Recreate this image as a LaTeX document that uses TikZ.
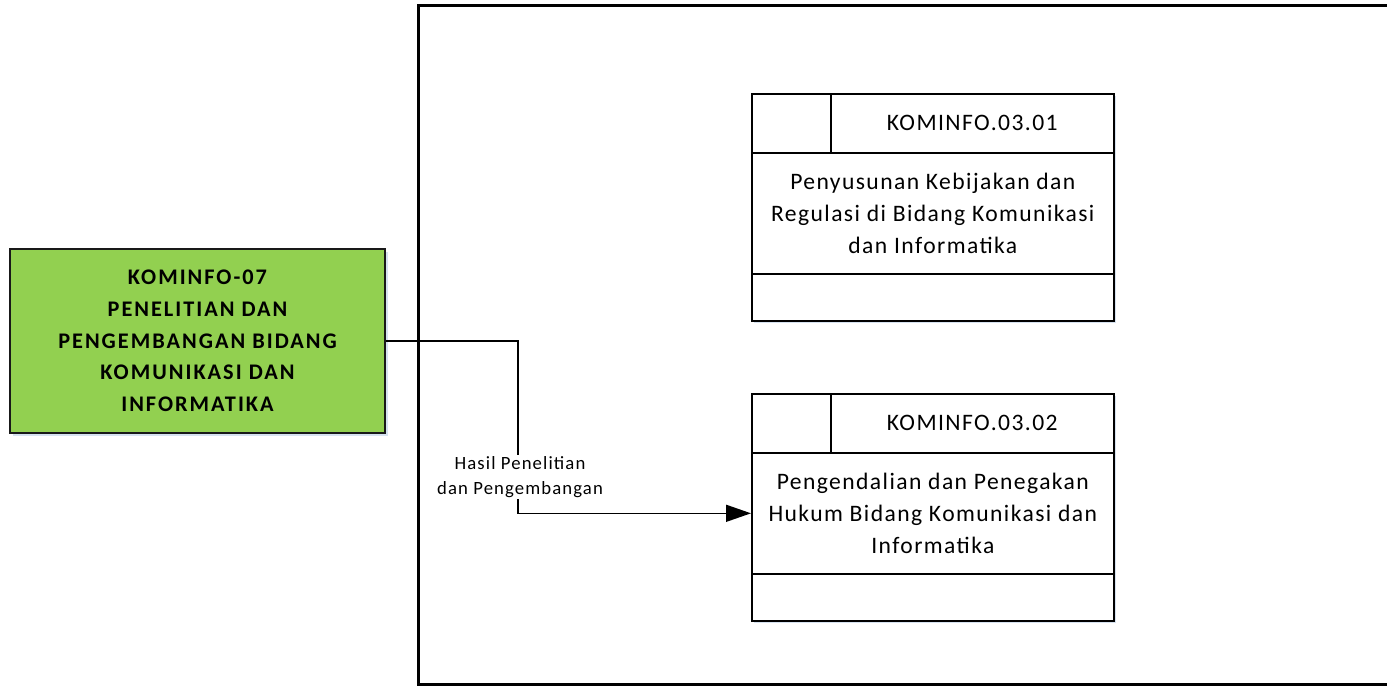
\documentclass[tikz,border=0pt]{standalone}
\usepackage{fontspec}
\setmainfont{Carlito}
\newfontfamily\boxfont[LetterSpace=6]{Carlito}
\newfontfamily\greenfont[LetterSpace=9]{Carlito}
\usetikzlibrary{arrows.meta}
\definecolor{kgreen}{RGB}{146,208,80}
\definecolor{shadowblue}{RGB}{214,226,240}
\begin{document}
\begin{tikzpicture}[x=1pt,y=-1pt,
  srcbox/.style={draw=black!90, line width=2.2pt, fill=kgreen, minimum width=375pt, minimum height=184pt, inner sep=0pt, align=center, font=\greenfont\bfseries\fontsize{22.3}{31.7}\selectfont},
  cell/.style={draw=black, fill=white, line width=1.6pt, inner sep=0pt, anchor=north west, align=center, font=\boxfont\fontsize{23.6}{32}\selectfont},
  conn/.style={draw=black, line width=1.5pt},
  lbl/.style={fill=white, inner sep=1.5pt, align=center, font=\boxfont\fontsize{18.7}{25}\selectfont},
  shadowbox/.style={fill=shadowblue}
]
\useasboundingbox (0,0) rectangle (1387,686);
% outer frame
\draw[line width=3.5pt] (1390,5.5) -- (418.5,5.5) -- (418.5,684.5) -- (1390,684.5);

% source box
\fill[shadowbox] (12.5,251.5) rectangle (387.5,435.5);
\node[srcbox] (src) at (197.5,341) {KOMINFO-07\\PENELITIAN DAN\\PENGEMBANGAN BIDANG\\KOMUNIKASI DAN\\INFORMATIKA};

% box 1
\fill[shadowbox] (753.5,95.5) rectangle (1115.5,322.5);
\node[cell, minimum width=79pt, minimum height=59pt] (b1id) at (751,93) {};
\node[cell, minimum width=283pt, minimum height=59pt] (b1code) at (830,93) {KOMINFO.03.01};
\node[cell, minimum width=362pt, minimum height=121pt] (b1body) at (751,152) {Penyusunan Kebijakan dan\\Regulasi di Bidang Komunikasi\\dan Informatika};
\node[cell, minimum width=362pt, minimum height=47pt] (b1foot) at (751,273) {};

% box 2
\fill[shadowbox] (753.5,395.5) rectangle (1115.5,622.5);
\node[cell, minimum width=79pt, minimum height=59pt] (b2id) at (751,393) {};
\node[cell, minimum width=283pt, minimum height=59pt] (b2code) at (830,393) {KOMINFO.03.02};
\node[cell, minimum width=362pt, minimum height=121pt] (b2body) at (751,452) {Pengendalian dan Penegakan\\Hukum Bidang Komunikasi dan\\Informatika};
\node[cell, minimum width=362pt, minimum height=47pt] (b2foot) at (751,573) {};

% connector
\coordinate (bendx) at (518,0);
\draw[conn, -{Triangle[length=25pt,width=17pt]}] (src.east) -| (bendx |- b2body.west) -- (b2body.west);
\node[lbl] (flowlabel) at (520,477) {Hasil Penelitian\\dan Pengembangan};
\end{tikzpicture}
\end{document}
